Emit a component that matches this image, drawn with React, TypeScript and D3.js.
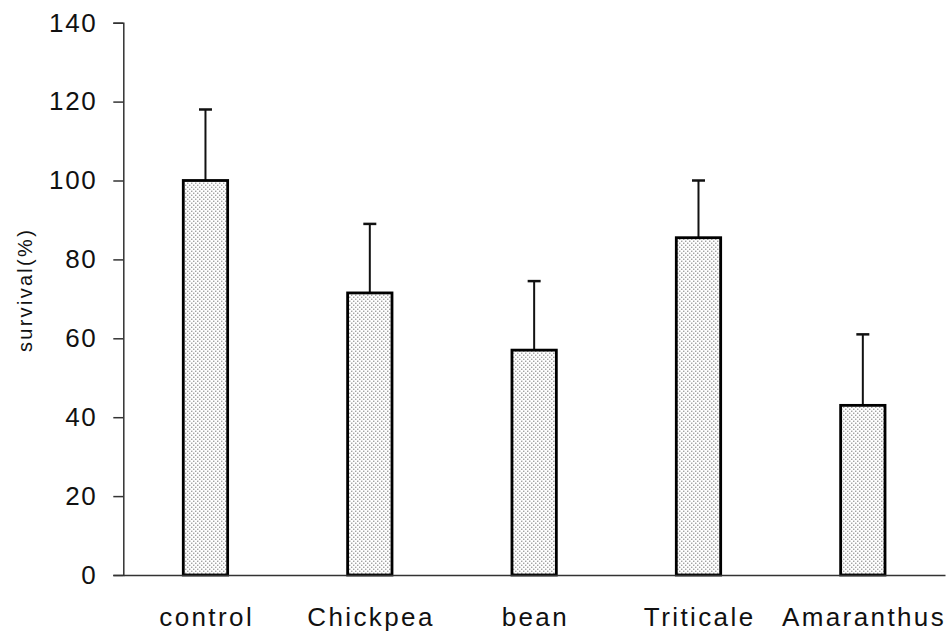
import { useEffect, useRef } from 'react'
import * as d3 from 'd3'

const categories = ['control', 'Chickpea', 'bean', 'Triticale', 'Amaranthus']
const survival = [100, 71.5, 57, 85.5, 43]
const errorTop = [118, 89, 74.5, 100, 61]
const yTicks = [0, 20, 40, 60, 80, 100, 120, 140]

const FONT = 'Liberation Sans, Arial, sans-serif'

export default function App() {
  const ref = useRef<SVGSVGElement>(null)

  useEffect(() => {
    if (!ref.current) return
    const W = 948
    const H = 632
    const margin = { top: 22.7, right: 3, bottom: 57, left: 123.3 }
    const inner = { w: W - margin.left - margin.right, h: H - margin.top - margin.bottom }

    const svg = d3.select(ref.current)
    svg.selectAll('*').remove()
    svg.attr('width', W).attr('height', H).style('font-family', FONT)

    // Dotted fill
    const defs = svg.append('defs')
    const pat = defs
      .append('pattern')
      .attr('id', 'dots')
      .attr('patternUnits', 'userSpaceOnUse')
      .attr('width', 4)
      .attr('height', 4)
    pat.append('rect').attr('width', 4).attr('height', 4).attr('fill', '#fff')
    pat.append('rect').attr('x', 0).attr('y', 0).attr('width', 1).attr('height', 1).attr('fill', '#444')
    pat.append('rect').attr('x', 2).attr('y', 2).attr('width', 1).attr('height', 1).attr('fill', '#444')

    const g = svg.append('g').attr('transform', `translate(${margin.left},${margin.top})`)

    const x = d3.scaleBand().domain(categories).range([0, inner.w]).paddingInner(0.73).paddingOuter(0.365)
    const y = d3.scaleLinear().domain([0, 140]).range([inner.h, 0])

    const data = categories.map((c, i) => ({ c, v: survival[i], e: errorTop[i] }))
    const cx = (d: { c: string }) => x(d.c)! + x.bandwidth() / 2

    // Error bars (behind bars)
    g.selectAll('.err')
      .data(data)
      .join('line')
      .attr('x1', cx)
      .attr('x2', cx)
      .attr('y1', (d) => y(d.v))
      .attr('y2', (d) => y(d.e))
      .attr('stroke', '#111')
      .attr('stroke-width', 2)
    g.selectAll('.cap')
      .data(data)
      .join('line')
      .attr('x1', (d) => cx(d) - 6.5)
      .attr('x2', (d) => cx(d) + 6.5)
      .attr('y1', (d) => y(d.e))
      .attr('y2', (d) => y(d.e))
      .attr('stroke', '#111')
      .attr('stroke-width', 2.5)

    // Bars
    g.selectAll('.bar')
      .data(data)
      .join('rect')
      .attr('x', (d) => x(d.c)!)
      .attr('y', (d) => y(d.v))
      .attr('width', x.bandwidth())
      .attr('height', (d) => inner.h - y(d.v))
      .attr('fill', 'url(#dots)')
      .attr('stroke', '#000')
      .attr('stroke-width', 2.8)

    // Y axis
    const ya = g
      .append('g')
      .call(d3.axisLeft(y).tickValues(yTicks).tickSize(10).tickPadding(16).tickFormat((v) => `${v}`))
    ya.select('.domain').attr('stroke', '#333').attr('stroke-width', 1.5)
    ya.selectAll('line').attr('stroke', '#333').attr('stroke-width', 1.5)
    ya.selectAll('text')
      .attr('font-size', 26)
      .attr('letter-spacing', 1.6)
      .attr('fill', '#111')
      .attr('font-family', FONT)

    // X axis
    const xa = g
      .append('g')
      .attr('transform', `translate(0,${inner.h})`)
      .call(d3.axisBottom(x).tickSize(0))
    xa.select('.domain').attr('stroke', '#333').attr('stroke-width', 1.5)
    xa.selectAll('text')
      .attr('y', 51)
      .attr('dy', 0)
      .attr('dx', 1.2)
      .attr('font-size', 26)
      .attr('letter-spacing', 2.4)
      .attr('fill', '#111')
      .attr('font-family', FONT)

    // Y label
    svg
      .append('text')
      .attr('transform', `translate(32,290) rotate(-90)`)
      .attr('text-anchor', 'middle')
      .attr('font-size', 20)
      .attr('letter-spacing', 2.3)
      .attr('fill', '#111')
      .text('survival(%)')
  }, [])

  return <svg ref={ref} style={{ position: 'absolute', left: 0, top: 0, display: 'block' }} />
}
